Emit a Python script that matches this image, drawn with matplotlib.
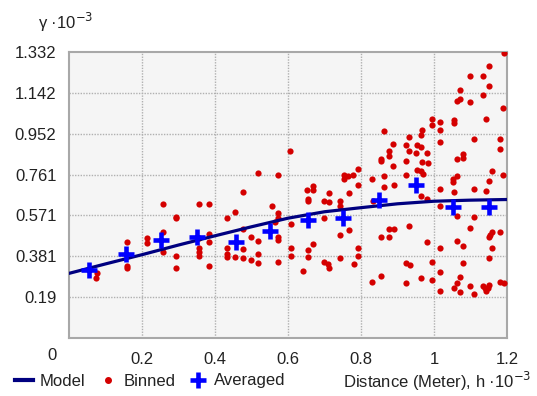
import matplotlib
matplotlib.use("Agg")
import matplotlib.pyplot as plt
from matplotlib.lines import Line2D

plt.rcParams['font.family'] = ['Liberation Sans', 'DejaVu Sans']

# model curve
model_h = [0.0, 0.1, 0.2, 0.3, 0.4, 0.5, 0.6, 0.7, 0.8, 0.9, 1.0, 1.1, 1.2]
model_g = [0.301, 0.345, 0.388, 0.433, 0.476, 0.518, 0.558, 0.588, 0.607, 0.625, 0.637, 0.642, 0.645]

# averaged bins
avg_h = [0.055, 0.155, 0.252, 0.352, 0.457, 0.551, 0.654, 0.752, 0.850, 0.951, 1.051, 1.150]
avg_g = [0.315, 0.390, 0.455, 0.472, 0.449, 0.500, 0.550, 0.560, 0.643, 0.711, 0.612, 0.612]

# binned pairs
binned_h = [
    0.077, 0.075,
    0.159, 0.159, 0.159,
    0.214, 0.214,
    0.258, 0.258, 0.258,
    0.294, 0.294, 0.294, 0.294,
    0.357, 0.357, 0.357, 0.357, 0.357,
    0.383, 0.383, 0.383, 0.383,
    0.434, 0.434, 0.434, 0.434,
    0.455, 0.455,
    0.476, 0.476, 0.476, 0.476,
    0.498, 0.498,
    0.518, 0.518, 0.518, 0.518,
    0.555, 0.564,
    0.573, 0.573, 0.573, 0.573, 0.573, 0.573,
    0.606, 0.607, 0.607, 0.607,
    0.640,
    0.653, 0.654, 0.654, 0.654, 0.654,
    0.669, 0.669, 0.669,
    0.699, 0.699, 0.699,
    0.709,
    0.712, 0.712, 0.712,
    0.742, 0.742, 0.742, 0.742,
    0.753, 0.753, 0.765, 0.767, 0.767, 0.779, 0.780,
    0.793, 0.793, 0.793, 0.793,
    0.830, 0.830, 0.832,
    0.855, 0.855, 0.855, 0.855,
    0.863, 0.864, 0.864,
    0.877, 0.877, 0.877, 0.877,
    0.889, 0.889, 0.890, 0.890,
    0.922, 0.922, 0.922, 0.923, 0.923,
    0.932, 0.932, 0.932, 0.933,
    0.952, 0.953, 0.953,
    0.964, 0.964, 0.964, 0.965, 0.965, 0.966, 0.966, 0.969,
    0.981, 0.982, 0.982, 0.983,
    0.994, 0.995, 0.995, 0.995,
    1.016, 1.016, 1.016, 1.016, 1.016, 1.016, 1.016, 1.016,
    1.053, 1.053, 1.054, 1.054, 1.054, 1.056,
    1.062, 1.062, 1.062, 1.063, 1.063, 1.063,
    1.070, 1.070, 1.070, 1.072,
    1.079, 1.079, 1.079, 1.079,
    1.099, 1.099, 1.099, 1.099,
    1.109, 1.109, 1.109, 1.109,
    1.133, 1.134, 1.134, 1.140, 1.142, 1.143, 1.143, 1.147,
    1.150, 1.150, 1.151, 1.151, 1.151, 1.152, 1.153, 1.158, 1.159, 1.159,
    1.180, 1.180, 1.180, 1.180,
    1.189, 1.189, 1.191, 1.193,
]
binned_g = [
    0.303, 0.278,
    0.446, 0.337, 0.325,
    0.467, 0.442,
    0.623, 0.495, 0.399,
    0.563, 0.557, 0.383, 0.327,
    0.623, 0.464, 0.418, 0.399, 0.383,
    0.623, 0.483, 0.448, 0.337,
    0.557, 0.421, 0.390, 0.379,
    0.588, 0.379,
    0.680, 0.506, 0.415, 0.371,
    0.470, 0.363,
    0.767, 0.452, 0.393, 0.348,
    0.615, 0.542,
    0.759, 0.581, 0.560, 0.472, 0.456, 0.355,
    0.869, 0.529, 0.421, 0.383,
    0.312,
    0.689, 0.647, 0.638, 0.410, 0.379,
    0.708, 0.689, 0.436,
    0.638, 0.560, 0.355,
    0.346,
    0.674, 0.632, 0.327,
    0.638, 0.613, 0.480, 0.371,
    0.761, 0.739, 0.754, 0.674, 0.502, 0.761, 0.343,
    0.789, 0.714, 0.421, 0.383,
    0.739, 0.262, 0.638,
    0.832, 0.823, 0.470, 0.290,
    0.754, 0.962, 0.703,
    0.869, 0.846, 0.508, 0.470,
    0.905, 0.803, 0.711, 0.508,
    0.759, 0.349, 0.255, 0.897, 0.826,
    0.935, 0.869, 0.522, 0.340,
    0.863, 0.897, 0.782,
    0.947, 0.663, 0.278, 0.889, 0.776, 0.970, 0.820, 0.764,
    0.449, 0.863, 0.647, 0.814,
    0.991, 1.021, 0.355, 0.269,
    1.006, 0.969, 0.913, 0.696, 0.616, 0.421, 0.306, 0.219,
    0.739, 0.727, 1.014, 1.003, 0.680, 0.234,
    1.105, 0.754, 0.255, 0.832, 0.570, 0.452,
    1.156, 0.286, 0.213, 1.115,
    0.857, 0.838, 0.427, 0.349,
    1.222, 1.099, 0.514, 0.242,
    0.925, 0.696, 0.565, 0.205,
    0.244, 1.222, 1.130, 0.231, 1.020, 0.683, 0.219, 0.234,
    1.265, 0.470, 1.172, 0.733, 0.371, 0.247, 0.480, 0.495, 0.776, 0.421,
    0.925, 0.882, 0.492, 0.262,
    1.071, 0.761, 0.255, 1.326,
]

x_ticks = [0.2, 0.4, 0.6, 0.8, 1.0, 1.2]
x_labels = ['0.2', '0.4', '0.6', '0.8', '1', '1.2']
y_ticks = [0.1903, 0.3806, 0.5709, 0.7611, 0.9514, 1.1417, 1.332]
y_labels = ['0.19', '0.381', '0.571', '0.761', '0.952', '1.142', '1.332']

FS = 12
TXT = '#222222'

fig = plt.figure(figsize=(5.37, 3.96), dpi=100)
ax = fig.add_axes([69/537, 58/396, 438/537, 286/396])
ax.set_facecolor('#f5f5f5')

ax.plot(model_h, model_g, color='#000080', lw=2.3, zorder=4, solid_capstyle='round')
ax.scatter(binned_h, binned_g, s=20, color='#d40000', zorder=3, linewidths=0)
ax.plot(avg_h, avg_g, ls='none', marker='+', ms=12, mew=3.3, color='#0000ff', zorder=5)

ax.set_xlim(0, 1.2)
ax.set_ylim(0, 1.332)
ax.set_xticks(x_ticks)
ax.set_xticklabels(x_labels)
ax.set_yticks(y_ticks)
ax.set_yticklabels(y_labels)
ax.tick_params(length=0, labelsize=FS, colors=TXT, pad=9)
ax.tick_params(axis='x', pad=10)
ax.annotate('0', xy=(0, 0), xycoords=('data', 'axes fraction'), xytext=(-17, -17),
            textcoords='offset pixels', ha='center', va='center', fontsize=FS, color=TXT)

for v in x_ticks[:-1]:
    ax.axvline(v, color='#b0b0b0', lw=1, ls=(0, (1, 1)), zorder=1)
for v in y_ticks[:-1]:
    ax.axhline(v, color='#b0b0b0', lw=1, ls=(0, (1, 1)), zorder=1)
for sp in ax.spines.values():
    sp.set_color('#a8a8a8')
    sp.set_linewidth(1.5)

fig.text(38/537, 1 - 22/396, r'γ ·10$^{-3}$', fontsize=FS, color=TXT, va='center')
fig.text(531/537, 1 - 381/396, r'Distance (Meter), h ·10$^{-3}$', fontsize=FS,
         color=TXT, va='center', ha='right')

handles = [
    Line2D([], [], color='#000080', lw=3),
    Line2D([], [], ls='none', marker='o', ms=4, color='#d40000'),
    Line2D([], [], ls='none', marker='+', ms=11, mew=3.3, color='#0000ff'),
]
fig.legend(handles, ['Model', 'Binned', 'Averaged'], loc='center left',
           bbox_to_anchor=(0, 1 - 381/396), ncol=3, frameon=False,
           handlelength=1.1, handletextpad=0.4, columnspacing=0.8,
           fontsize=FS, labelcolor=TXT)

fig.savefig('out.png', dpi=100)
